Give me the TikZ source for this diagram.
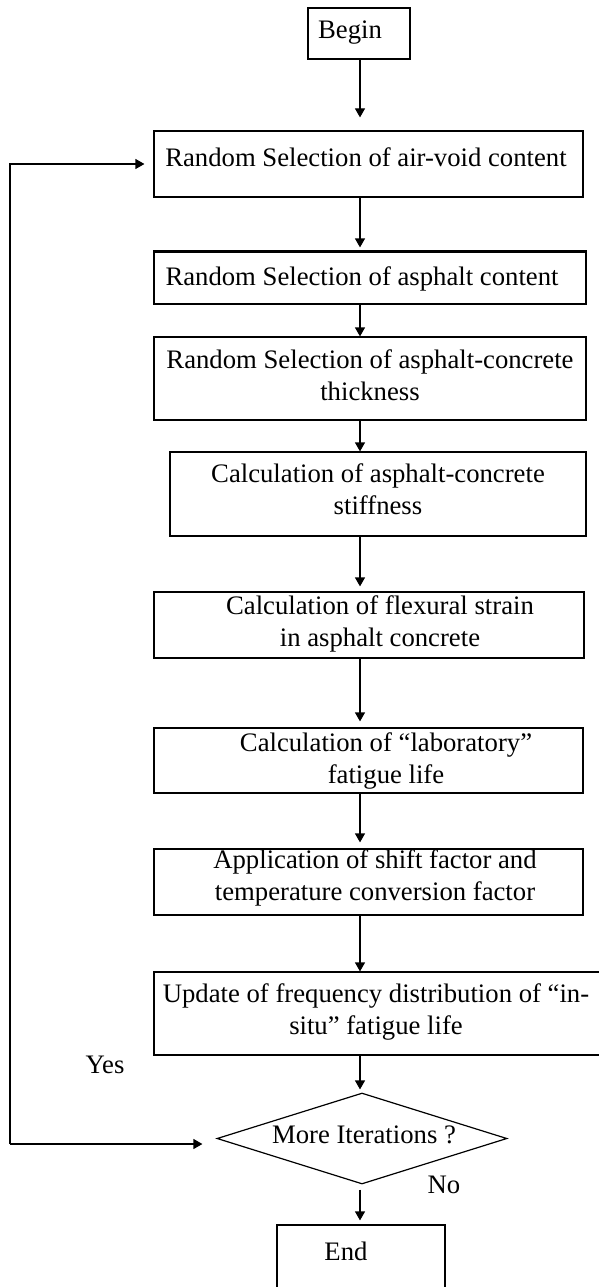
\documentclass[tikz,border=0pt]{standalone}
\usepackage{fontspec}
\setmainfont{Liberation Serif}
\usetikzlibrary{arrows.meta,shapes.geometric}
\begin{document}
\begin{tikzpicture}[x=1pt,y=-1pt,
  box/.style={draw, line width=1.2pt, rectangle, inner sep=0pt},
  txt/.style={inner sep=0pt, anchor=base, align=center, font=\fontsize{26.7}{31.5}\selectfont},
  arr/.style={-{Triangle[width=10pt,length=9pt]}, line width=1.2pt}]
\useasboundingbox (0,0) rectangle (598,1287);
% boxes
\node[box, minimum width=102pt, minimum height=51pt] (bg) at (359,33.5) {};
\node[box, minimum width=429pt, minimum height=66pt] (b2) at (368.5,164) {};
\node[box, minimum width=432pt, minimum height=52pt] (b3) at (370,278) {};
\node[box, minimum width=432pt, minimum height=83pt] (b4) at (370,378.5) {};
\node[box, minimum width=416pt, minimum height=84pt] (b5) at (378,494) {};
\node[box, minimum width=430pt, minimum height=66pt] (b6) at (369,625) {};
\node[box, minimum width=429pt, minimum height=65pt] (b7) at (368.5,760.5) {};
\node[box, minimum width=429pt, minimum height=66pt] (b8) at (368.5,882) {};
\node[box, minimum width=450pt, minimum height=83pt] (b9) at (379,1013.5) {};
\node[draw, line width=1.2pt, diamond, inner sep=0pt, minimum width=290pt, minimum height=91pt] (dm) at (362,1138.5) {};
\node[box, minimum width=168pt, minimum height=75pt] (en) at (361,1262.5) {};
\draw[line width=2pt] (b3.north west) -- (b3.north east);
% texts (anchor=base is the baseline of the last line)
\node[txt] (tbg) at (350,39) {Begin};
\node[txt] (tb2) at (366,166) {Random Selection of air-void content};
\node[txt] (tb3) at (362,285) {Random Selection of asphalt content};
\node[txt] (tb4) at (370,400) {Random Selection of asphalt-concrete\\thickness};
\node[txt] (tb5) at (378,514) {Calculation of asphalt-concrete\\stiffness};
\node[txt] (tb6) at (380,646) {Calculation of flexural strain\\in asphalt concrete};
\node[txt] (tb7) at (386,783) {Calculation of “laboratory”\\fatigue life};
\node[txt] (tb8) at (375,900) {Application of shift factor and\\temperature conversion factor};
\node[txt] (tb9) at (376,1034) {Update of frequency distribution of “in-\\situ” fatigue life};
\node[txt] (tdm) at (364,1143) {More Iterations ?};
\node[txt] (tyes) at (105,1073) {Yes};
\node[txt] (tno) at (444,1193) {No};
\node[txt] (ten) at (346,1260) {End};
% connectors
\coordinate (ax) at (360,0);
\draw[arr, shorten >=13pt] (bg.south -| ax) -- (b2.north -| ax);
\draw[arr, shorten >=4pt] (b2.south -| ax) -- (b3.north -| ax);
\draw[arr] (b3.south -| ax) -- (b4.north -| ax);
\draw[arr] (b4.south -| ax) -- (b5.north -| ax);
\draw[arr, shorten >=5pt] (b5.south -| ax) -- (b6.north -| ax);
\draw[arr, shorten >=6pt] (b6.south -| ax) -- (b7.north -| ax);
\draw[arr, shorten >=6pt] (b7.south -| ax) -- (b8.north -| ax);
\draw[arr] (b8.south -| ax) -- (b9.north -| ax);
\draw[arr, shorten >=3pt] (b9.south -| ax) -- (dm.north -| ax);
\draw[arr, shorten <=5pt, shorten >=4pt] (dm.south -| ax) -- (en.north -| ax);
\coordinate (lc) at (10,1144);
\draw[arr, shorten >=14pt] (lc) -- (lc -| dm.west);
\draw[arr, shorten >=9pt] (lc) |- (b2.west);
\end{tikzpicture}
\end{document}
